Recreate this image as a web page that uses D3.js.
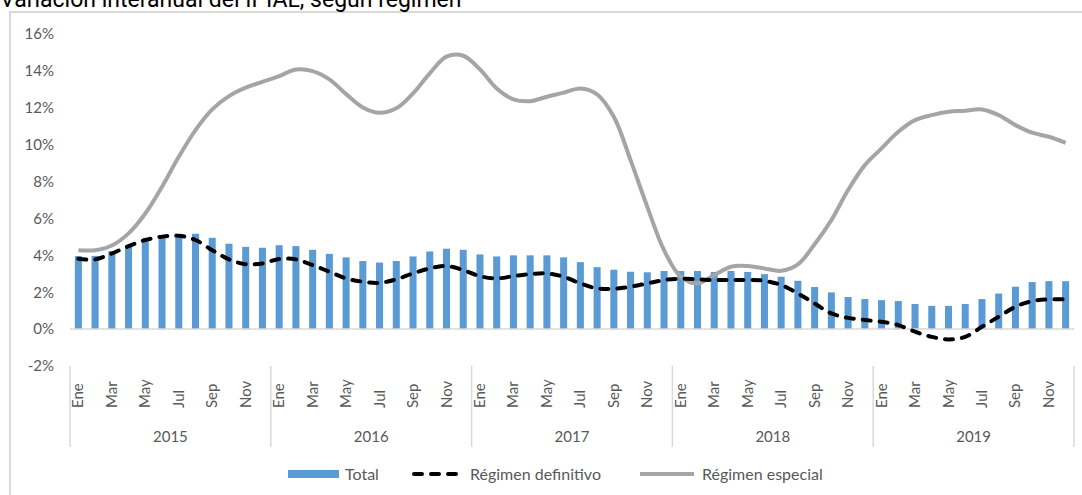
<!DOCTYPE html>
<html>
<head>
<meta charset="utf-8">
<script src="https://cdn.jsdelivr.net/npm/d3@7"></script>
<style>
  body { margin: 0; background: #fff; }
  svg { display: block; font-family: Lato, "Open Sans", sans-serif; }
</style>
</head>
<body>
<svg id="chart" width="1082" height="495"></svg>
<script>
// data (percent)
const years = ["2015", "2016", "2017", "2018", "2019"];
const monthNames = ["Ene", "Feb", "Mar", "Abr", "May", "Jun", "Jul", "Ago", "Sep", "Oct", "Nov", "Dic"];

const total = [
  3.96, 3.97, 4.23, 4.52, 4.83, 5.04, 5.10, 5.17, 4.95, 4.63, 4.46, 4.41,
  4.55, 4.50, 4.30, 4.08, 3.89, 3.69, 3.61, 3.69, 3.94, 4.21, 4.36, 4.30,
  4.05, 3.94, 4.00, 4.00, 4.00, 3.89, 3.63, 3.36, 3.22, 3.11, 3.08, 3.15,
  3.15, 3.15, 3.10, 3.15, 3.10, 2.98, 2.84, 2.62, 2.28, 1.99, 1.74, 1.63,
  1.57, 1.52, 1.36, 1.26, 1.26, 1.36, 1.63, 1.93, 2.30, 2.55, 2.60, 2.60
];

const definitivo = [
  3.81, 3.78, 4.10, 4.50, 4.83, 5.01, 5.06, 4.83, 4.28, 3.78, 3.52, 3.56,
  3.80, 3.78, 3.47, 3.11, 2.75, 2.57, 2.51, 2.70, 3.02, 3.29, 3.42, 3.20,
  2.87, 2.75, 2.87, 2.98, 3.02, 2.84, 2.48, 2.21, 2.19, 2.30, 2.48, 2.66,
  2.73, 2.70, 2.66, 2.66, 2.66, 2.62, 2.39, 1.93, 1.39, 0.85, 0.61, 0.49,
  0.40, 0.22, -0.14, -0.42, -0.56, -0.42, 0.13, 0.67, 1.21, 1.52, 1.61, 1.61
];

const especial = [
  4.28, 4.28, 4.53, 5.19, 6.27, 7.72, 9.34, 10.79, 11.91, 12.63, 13.09, 13.41,
  13.72, 14.08, 13.99, 13.54, 12.74, 12.02, 11.73, 11.97, 12.78, 13.87, 14.77, 14.82,
  14.08, 13.05, 12.46, 12.36, 12.60, 12.82, 13.05, 12.73, 11.51, 9.16, 6.63, 4.28,
  2.84, 2.48, 2.93, 3.38, 3.42, 3.29, 3.16, 3.51, 4.60, 5.91, 7.54, 8.89,
  9.80, 10.70, 11.33, 11.60, 11.78, 11.84, 11.91, 11.60, 11.06, 10.65, 10.43, 10.10
];

const yTicks = [-2, 0, 2, 4, 6, 8, 10, 12, 14, 16];
const seriesNames = ["Total", "Régimen definitivo", "Régimen especial"];

// colours
const blue = "#5b9bd5", grey = "#a5a5a5", axisGrey = "#d9d9d9", textGrey = "#595959";

const svg = d3.select("svg#chart");

// months as index 0..59
const months = d3.range(years.length * 12);

// plot area
const plot = {left: 70, right: 1074, top: 34, bottom: 366};

const x = d3.scaleBand()
  .domain(months)
  .range([plot.left, plot.right])
  .paddingInner(0.58)
  .paddingOuter(0.29);

const y = d3.scaleLinear()
  .domain([-2, 16])
  .range([plot.bottom, plot.top]);

// chart frame
svg.append("rect")
  .attr("x", 10).attr("y", 12)
  .attr("width", 1090).attr("height", 500)
  .attr("fill", "none")
  .attr("stroke", axisGrey)
  .attr("stroke-width", 2);

// title (cut off at the top like the original)
svg.append("text")
  .attr("x", 0)
  .attr("y", 7)
  .style("font-family", "Roboto, sans-serif")
  .style("font-size", "23px")
  .attr("fill", "#000")
  .text("Variación interanual del IPIAL, según régimen");

// y axis labels
const yAxis = svg.append("g")
  .attr("transform", `translate(${54},0)`)
  .call(d3.axisLeft(y).tickValues(yTicks).tickSize(0).tickPadding(0).tickFormat(d => d + "%"));
yAxis.select(".domain").remove();
yAxis.selectAll("text")
  .attr("fill", textGrey)
  .style("font-size", "15px")
  .style("font-family", "Lato, sans-serif");

// bars
svg.append("g").selectAll("rect")
  .data(months)
  .join("rect")
    .attr("x", i => x(i))
    .attr("y", i => y(Math.max(0, total[i])))
    .attr("width", x.bandwidth())
    .attr("height", i => Math.abs(y(total[i]) - y(0)))
    .attr("fill", blue);

// zero line
svg.append("line")
  .attr("x1", plot.left).attr("x2", plot.right)
  .attr("y1", y(0)).attr("y2", y(0))
  .attr("stroke", axisGrey)
  .attr("stroke-width", 1.5);

const cx = i => x(i) + x.bandwidth() / 2;
const line = d3.line().curve(d3.curveCatmullRom.alpha(0.5));

svg.append("path")
  .attr("d", line(months.map(i => [cx(i), y(especial[i])])))
  .attr("fill", "none")
  .attr("stroke", grey)
  .attr("stroke-width", 4)
  .attr("stroke-linejoin", "round");

svg.append("path")
  .attr("d", line(months.map(i => [cx(i), y(definitivo[i])])))
  .attr("fill", "none")
  .attr("stroke", "#000")
  .attr("stroke-width", 4)
  .attr("stroke-dasharray", "8,9")
  .attr("stroke-linecap", "round");

// category axis: month labels (every other month)
const xAxis = svg.append("g");
xAxis.selectAll("text.month")
  .data(months.filter(i => i % 2 === 0))
  .join("text")
    .attr("class", "month")
    .attr("transform", i => `translate(${cx(i) + 5},408) rotate(-90)`)
    .attr("text-anchor", "start")
    .attr("fill", textGrey)
    .style("font-size", "15px")
    .text(i => monthNames[i % 12]);

// year separators
const bandStep = x.step();
xAxis.selectAll("line.sep")
  .data(d3.range(years.length + 1))
  .join("line")
    .attr("class", "sep")
    .attr("x1", k => plot.left + k * 12 * bandStep)
    .attr("x2", k => plot.left + k * 12 * bandStep)
    .attr("y1", 366).attr("y2", 447)
    .attr("stroke", axisGrey)
    .attr("stroke-width", 1.5);

xAxis.selectAll("text.year")
  .data(years)
  .join("text")
    .attr("class", "year")
    .attr("x", (d, k) => plot.left + (k + 0.5) * 12 * bandStep)
    .attr("y", 442)
    .attr("text-anchor", "middle")
    .attr("fill", textGrey)
    .style("font-size", "15px")
    .text(d => d);

// legend
const legend = svg.append("g").attr("transform", "translate(0,474)");
const lx = [288, 412, 640];

legend.append("rect")
  .attr("x", lx[0]).attr("y", -4)
  .attr("width", 51).attr("height", 8)
  .attr("fill", blue);

legend.append("line")
  .attr("x1", lx[1] + 2).attr("x2", lx[1] + 50)
  .attr("stroke", "#000").attr("stroke-width", 4)
  .attr("stroke-dasharray", "8,9").attr("stroke-linecap", "round");

legend.append("line")
  .attr("x1", lx[2]).attr("x2", lx[2] + 54)
  .attr("stroke", grey).attr("stroke-width", 4);

legend.selectAll("text")
  .data(seriesNames)
  .join("text")
    .attr("x", (d, k) => [345, 470, 702][k])
    .attr("y", 0)
    .attr("dy", "0.35em")
    .attr("fill", textGrey)
    .style("font-size", "16px")
    .text(d => d);
</script>
</body>
</html>
